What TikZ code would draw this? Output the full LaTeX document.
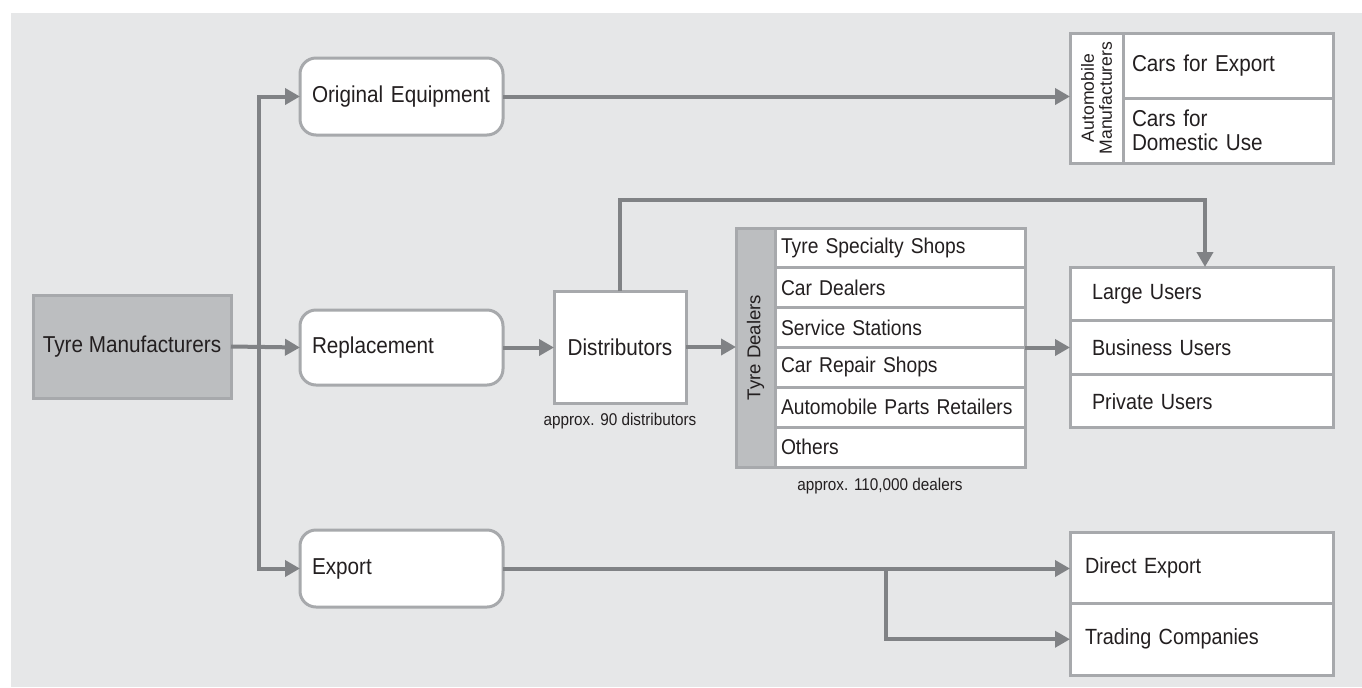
\documentclass[tikz,border=0pt]{standalone}
\usepackage{fontspec}
\setmainfont[FakeStretch=0.9]{Liberation Sans}
\newfontfamily\plainsans{Liberation Sans}
\usetikzlibrary{arrows.meta,fit}
\definecolor{bgcol}{HTML}{E6E7E8}
\definecolor{bordcol}{HTML}{A7A9AC}
\definecolor{conncol}{HTML}{808285}
\definecolor{darkfill}{HTML}{BCBEC0}
\definecolor{txtcol}{HTML}{231F20}
\hyphenpenalty=10000
\exhyphenpenalty=10000
\begin{document}
\begin{tikzpicture}[x=0.5pt,y=-0.5pt,
  every node/.style={text=txtcol},
  box/.style={draw=bordcol, line width=1.5pt, fill=white, inner ysep=0pt, outer sep=0pt, anchor=north west},
  mainf/.style={font=\fontsize{11.5}{12}\selectfont},
  rowf/.style={font=\fontsize{11}{12}\selectfont},
  tdf/.style={font=\fontsize{10.7}{12}\selectfont},
  notef/.style={font=\fontsize{8.5}{9}\selectfont},
  conn/.style={draw=conncol, line width=2pt, -{Triangle[length=7.5pt,width=8pt]}},
  grp/.style={draw=bordcol, line width=1.5pt, inner sep=0pt, outer sep=0pt},
  pill/.style={box, mainf, rounded corners=8pt, text width=89.5pt, inner xsep=6pt, align=left},
  tdrow/.style={box, tdf, text width=119pt, inner xsep=3pt, minimum height=19.92pt, align=left},
  userrow/.style={box, rowf, text width=109.5pt, inner xsep=11pt, minimum height=26.83pt, align=left},
  exprow/.style={box, rowf, text width=116.5pt, inner xsep=7.5pt, minimum height=35.75pt, align=left},
  autorow/.style={box, mainf, text width=96pt, inner xsep=4.5pt, minimum height=32.5pt, align=left},
]
\useasboundingbox (0,0) rectangle (1362,687);
\fill[bgcol] (11,13) rectangle (1362,687);

% left column
\node[box, mainf, fill=darkfill, minimum width=99pt, minimum height=51.5pt, inner sep=0pt, align=center] (tm) at (33,295) {Tyre Manufacturers};
\node[pill, minimum height=38.5pt] (oe) at (300,58) {Original Equipment};
\node[pill, minimum height=37.5pt] (rep) at (300,310) {Replacement};
\node[pill, minimum height=38.5pt] (exp) at (300,530) {Export};

% distributors
\node[box, mainf, minimum width=66pt, minimum height=56pt, inner sep=0pt, align=center] (dist) at (554,291) {Distributors};
\node[notef] (distnote) at (620,421) {approx. 90 distributors};

% automobile manufacturers
\node[box, rotate=90, anchor=center, minimum width=65pt, minimum height=26.5pt, inner sep=0pt, align=center, font=\plainsans\fontsize{8.8}{9}\selectfont] (autolbl) at (1096.5,98) {Automobile\\Manufacturers};
\node[autorow] (carexp) at (1123,33) {Cars for Export};
\node[autorow] (cardom) at (1123,98) {Cars for\\Domestic Use};
\node[grp, fit=(autolbl)(carexp)(cardom)] (auto) {};

% tyre dealers
\node[box, fill=darkfill, rotate=90, anchor=center, minimum width=119.5pt, minimum height=19.5pt, inner sep=0pt, font=\plainsans\fontsize{9.3}{11}\selectfont] (tdlbl) at (755.5,347.5) {Tyre Dealers};
\node[tdrow] (tdr1) at (775,228) {Tyre Specialty Shops};
\node[tdrow] (tdr2) at (775,267.83) {Car Dealers};
\node[tdrow] (tdr3) at (775,307.67) {Service Stations};
\node[tdrow] (tdr4) at (775,347.5) {Car Repair Shops};
\node[tdrow] (tdr5) at (775,387.33) {Automobile Parts Retailers};
\node[tdrow] (tdr6) at (775,427.17) {Others};
\node[grp, fit=(tdlbl)(tdr1)(tdr6)] (td) {};
\node[notef] (tdnote) at (880,486) {approx. 110,000 dealers};

% users
\node[userrow] (lu) at (1070,267) {Large Users};
\node[userrow] (bu) at (1070,320.67) {Business Users};
\node[userrow] (pu) at (1070,374.33) {Private Users};
\node[grp, fit=(lu)(pu)] (users) {};

% export targets
\node[exprow] (de) at (1070,532) {Direct Export};
\node[exprow] (tc) at (1070,603.5) {Trading Companies};
\node[grp, fit=(de)(tc)] (exptg) {};

% connectors
\coordinate (trunk) at (259,347);
\coordinate (topbend) at (620,200);
\coordinate (branch) at (886,568.5);
\draw[conn] (tm.east) -- (rep.west);
\draw[conn] (exp.west -| trunk) |- (oe.west);
\draw[conn] (oe.west -| trunk) |- (exp.west);
\draw[conn] (oe.east) -- (oe.east -| auto.west);
\draw[conn] (rep.east) -- (rep.east -| dist.west);
\draw[conn] (dist.east) -- (dist.east -| td.west);
\draw[conn] (dist.north) -- (topbend) -| ([xshift=1.75pt]users.north);
\draw[conn] (td.east) -- (td.east -| users.west);
\draw[conn] (exp.east) -- (exp.east -| de.west);
\draw[conn] (branch) |- (tc.west);
\end{tikzpicture}
\end{document}
